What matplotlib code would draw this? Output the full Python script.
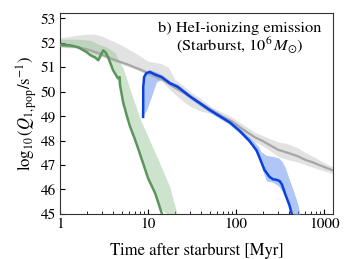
import numpy as np
import matplotlib
matplotlib.use("Agg")
import matplotlib.pyplot as plt
from matplotlib.ticker import FixedLocator, FixedFormatter, LogLocator, NullFormatter

# ---------------- data ----------------
# green series
green_t = [1, 1.3, 1.6, 2.0, 2.2, 2.5, 2.71, 2.9, 3.09, 3.3, 3.5, 4.0, 4.53, 4.75, 4.8, 5.2, 5.7, 6.2, 7.0, 8.0, 10.0, 12.0, 14.5]
green_q = [51.92, 51.9, 51.82, 51.62, 51.5, 51.4, 51.29, 51.5, 51.69, 51.6, 51.42, 50.88, 50.55, 50.6, 50.26, 49.57, 49.04, 48.6, 48.1, 47.5, 46.45, 45.85, 44.95]
green_band_t = [1, 1.5, 2.0, 2.2, 2.5, 2.71, 3.0, 3.5, 4.2, 5.2, 6.5, 8.1, 10, 12, 14, 17.6, 21.5]
green_band_hi = [52.15, 52.15, 52.12, 52.1, 52.02, 51.95, 51.9, 51.8, 51.6, 50.96, 49.9, 48.9, 48.15, 47.5, 46.95, 46.1, 44.95]
green_band_lo = [51.85, 51.83, 51.6, 51.45, 51.35, 51.25, 51.45, 51.38, 50.85, 49.5, 48.5, 47.45, 46.4, 45.8, 45.2, 44.9, 44.9]

# gray series
gray_t = [1, 1.5, 2, 2.5, 3, 4, 5, 6, 7, 8, 9, 10, 12, 15, 20, 30, 50, 70, 90, 120, 160, 200, 250, 300, 400, 500, 600, 750, 900, 1100, 1250]
gray_q = [51.88, 51.84, 51.74, 51.62, 51.52, 51.32, 51.2, 51.1, 51.0, 50.92, 50.84, 50.76, 50.64, 50.47, 50.17, 49.8, 49.3, 48.98, 48.78, 48.45, 48.15, 47.98, 47.78, 47.62, 47.48, 47.36, 47.22, 47.1, 46.98, 46.86, 46.78]
gray_band_t = [1, 1.5, 2, 2.5, 3, 4, 5, 7, 10, 14, 17, 20, 25, 30, 40, 54, 70, 90, 120, 160, 200, 250, 300, 400, 500, 600, 750, 900, 1100, 1250]
gray_band_hi = [52.2, 52.3, 52.35, 52.35, 52.27, 52.07, 51.9, 51.6, 51.25, 51.15, 51.0, 50.5, 50.25, 50.0, 49.7, 49.35, 49.15, 48.95, 48.65, 48.35, 48.2, 48.05, 47.95, 47.85, 47.7, 47.52, 47.35, 47.18, 47.02, 46.92]
gray_band_lo = [51.82, 51.78, 51.68, 51.55, 51.45, 51.25, 51.13, 50.93, 50.68, 50.45, 50.15, 49.9, 49.6, 49.4, 49.2, 49.1, 48.85, 48.65, 48.3, 47.95, 47.78, 47.55, 47.35, 47.2, 47.12, 47.02, 46.9, 46.8, 46.72, 46.64]

# blue series
blue_t = [8.77, 8.8, 9.0, 9.5, 10.4, 12, 14.2, 17.6, 21.6, 30, 50, 84, 109, 140, 170, 209, 238, 260, 283, 310, 330, 360, 400, 430]
blue_q = [48.97, 50.2, 50.6, 50.75, 50.81, 50.7, 50.6, 50.35, 50.2, 49.8, 49.25, 48.75, 48.4, 48.0, 47.6, 46.8, 46.52, 46.42, 46.4, 46.35, 46.2, 45.8, 45.37, 44.95]
blue_band_t = [8.77, 9.0, 9.6, 10.4, 10.9, 12.4, 14.2, 17.6, 21.6, 30, 50, 84, 109, 150, 180, 190, 220, 260, 300, 330, 360, 400, 450, 500, 530]
blue_band_hi = [49.0, 50.7, 50.85, 50.9, 50.88, 50.8, 50.7, 50.45, 50.3, 49.9, 49.35, 48.85, 48.5, 48.05, 47.75, 47.55, 47.4, 47.35, 47.3, 47.15, 46.9, 46.4, 45.9, 45.4, 44.95]
blue_band_lo = [48.97, 49.1, 49.25, 49.6, 49.8, 50.4, 50.5, 50.25, 50.1, 49.7, 49.15, 48.65, 48.3, 47.8, 47.3, 47.0, 46.35, 46.3, 46.15, 45.95, 45.7, 45.3, 44.95, 44.95, 44.95]

xticks = [1, 10, 100, 1000]
xtick_labels = ["1", "10", "100", "1000"]
yticks = [45, 46, 47, 48, 49, 50, 51, 52, 53]

# ---------------- figure ----------------
plt.rcParams['font.family'] = ['STIXGeneral', 'DejaVu Serif']
plt.rcParams['mathtext.fontset'] = 'stix'

fig = plt.figure(figsize=(3.49, 2.59), dpi=100)
ax = fig.add_axes([0.172, 0.174, 0.782, 0.774])

ax.fill_between(gray_band_t, gray_band_lo, gray_band_hi, color='#cfcfcf', alpha=0.6, lw=0, zorder=1)
ax.fill_between(green_band_t, green_band_lo, green_band_hi, color='#9cc89c', alpha=0.5, lw=0, zorder=2)
ax.fill_between(blue_band_t, blue_band_lo, blue_band_hi, color='#7098f0', alpha=0.55, lw=0, zorder=3)
ax.plot(gray_t, gray_q, color='#a6a6a6', lw=1.6, zorder=4)
ax.plot(green_t, green_q, color='#5a955c', lw=1.8, zorder=5)
ax.plot(blue_t, blue_q, color='#0a3fe0', lw=1.8, zorder=6)

ax.set_xscale('log')
ax.set_xlim(1, 1250)
ax.set_ylim(45, 53.2)
ax.xaxis.set_major_locator(FixedLocator(xticks))
ax.xaxis.set_major_formatter(FixedFormatter(xtick_labels))
ax.xaxis.set_minor_locator(LogLocator(base=10, subs=np.arange(2, 10)))
ax.xaxis.set_minor_formatter(NullFormatter())
ax.set_yticks(yticks)

ax.tick_params(which='both', direction='in', labelsize=11, top=False, right=False)
ax.tick_params(which='major', length=3.5, width=0.8, pad=3)
ax.tick_params(which='minor', length=2, width=0.6)
for s in ax.spines.values():
    s.set_linewidth(0.8)
    s.set_color('#333333')

ax.set_xlabel('Time after starburst [Myr]', fontsize=12, labelpad=8)
ax.set_ylabel(r'$\log_{10}(Q_{1,\mathrm{pop}}/\mathrm{s}^{-1})$', fontsize=12, labelpad=1)

ax.text(0.66, 0.96, 'b) HeI-ionizing emission\n(Starburst, $10^6\\,M_{\\odot}$)',
        transform=ax.transAxes, ha='center', va='top', fontsize=11.8, linespacing=1.0)

fig.savefig('out.png', dpi=100)
